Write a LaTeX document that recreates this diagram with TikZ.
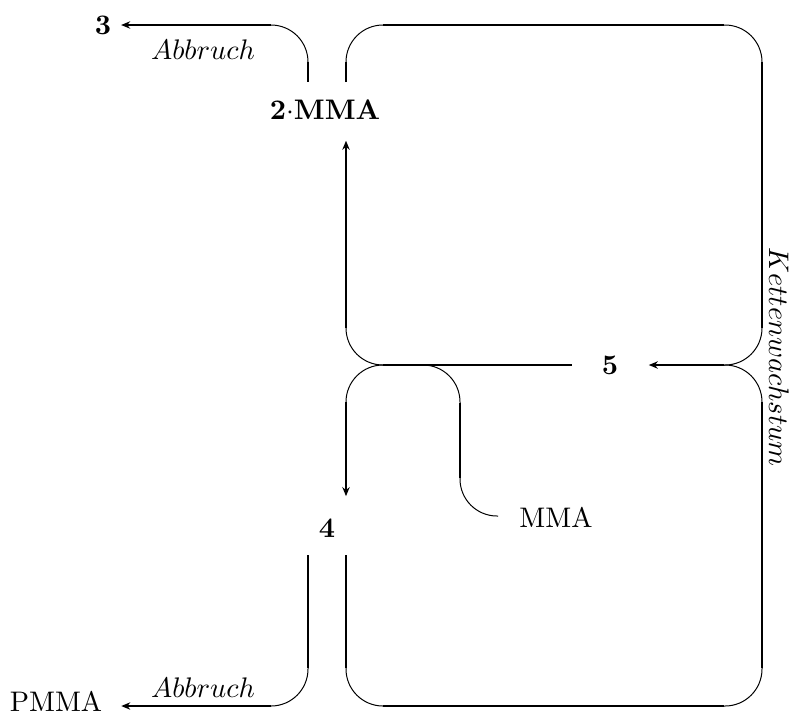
\documentclass[tikz,border=0pt]{standalone}
\usetikzlibrary{arrows.meta}
\begin{document}
\begin{tikzpicture}[x=0.3535pt,y=-0.3535pt,
  bar/.style={line width=0.7pt},
  curl/.style={line width=0.35pt, rounded corners=13.08pt},
  tip/.style={-{Stealth[length=3.2pt,width=2.6pt]}}]
\useasboundingbox (0,0) rectangle (790,715);

% species
\node (n3)   at (103,25)  {$\mathbf{3}$};
\node (n2)   at (325,110) {$\mathbf{2}{\cdot}\mathbf{MMA}$};
\node (n5)   at (610,365) {$\mathbf{5}$};
\node (n4)   at (327,528) {$\mathbf{4}$};
\node (mma)  at (556,517) {MMA};
\node (pmma) at (56,701)  {PMMA};

% reaction labels
\node (ab1) at (203,50)  {$Abbruch$};
\node (ab2) at (203,688) {$Abbruch$};
\node[rotate=-90] (kw) at (779,357) {$Kettenwachstum$};

% corner points of the routing
\coordinate (t1) at (271,25);
\coordinate (t2) at (308,62);
\coordinate (t3) at (308,82);
\coordinate (t4) at (346,82);
\coordinate (t5) at (346,62);
\coordinate (t6) at (383,25);
\coordinate (t7) at (724,25);
\coordinate (t8) at (762,62);
\coordinate (r1) at (762,328);
\coordinate (r2) at (724,365);
\coordinate (r3) at (762,402);
\coordinate (r4) at (762,668);
\coordinate (b1) at (724,706);
\coordinate (b2) at (383,706);
\coordinate (b3) at (346,668);
\coordinate (b4) at (346,555);
\coordinate (l1) at (308,555);
\coordinate (l2) at (308,668);
\coordinate (l3) at (271,706);
\coordinate (m1) at (346,328);
\coordinate (m2) at (383,365);
\coordinate (m3) at (346,402);
\coordinate (m4) at (423,365);
\coordinate (m5) at (460,403);
\coordinate (m6) at (460,478);
\coordinate (m7) at (498,516);

% termination to 3
\draw[bar,tip] (t1) -- (n3.east |- t1);
\draw[curl] (t1) -| (t2);
\draw[bar] (t2) -- (t3);

% outer growth loop
\draw[bar] (t4) -- (t5);
\draw[curl] (t5) |- (t6);
\draw[bar] (t6) -- (t7);
\draw[curl] (t7) -| (t8);
\draw[bar] (t8) -- (r1);
\draw[curl] (r1) |- (r2);
\draw[bar,tip,shorten >=7.3pt] (r2) -- (n5);
\draw[curl] (r2) -| (r3);
\draw[bar] (r3) -- (r4);
\draw[curl] (r4) |- (b1);
\draw[bar] (b1) -- (b2);
\draw[curl] (b2) -| (b3);
\draw[bar] (b3) -- (b4);

% termination to PMMA
\draw[bar] (l1) -- (l2);
\draw[curl] (l2) |- (l3);
\draw[bar,tip,shorten >=3.2pt] (l3) -- (pmma.east |- l3);

% central branch
\draw[curl] (m1) |- (m2);
\draw[bar,tip,shorten >=3.9pt] (m1) -- (m1 |- n2.south);
\draw[bar,shorten >=6.9pt] (m2) -- (n5);
\draw[curl] (m2) -| (m3);
\draw[bar,tip,shorten >=4.5pt] (m3) -- (m3 |- n4.north);
\draw[curl] (m4) -| (m5);
\draw[bar] (m5) -- (m6);
\draw[curl] (m6) |- (m7);
\end{tikzpicture}
\end{document}
